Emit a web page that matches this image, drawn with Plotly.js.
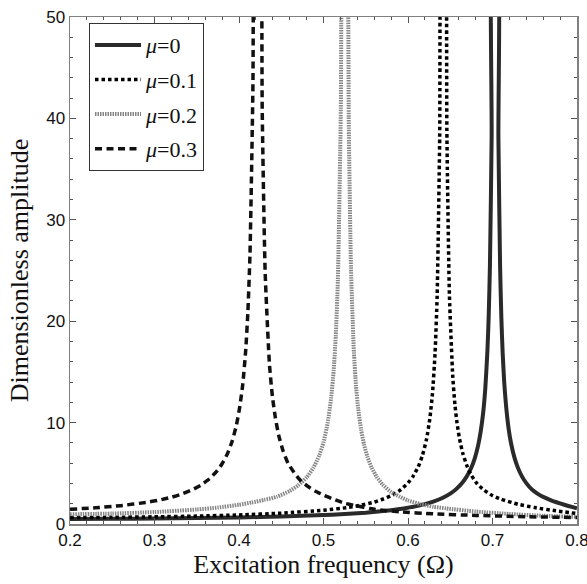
<!DOCTYPE html>
<html>
<head>
<meta charset="utf-8">
<script src="https://cdn.plot.ly/plotly-3.0.1.min.js"></script>
<style>html,body{margin:0;padding:0;background:#fff;}#chart{width:587px;height:584px;}</style>
</head>
<body>
<div id="chart"></div>
<script>
// Series names (legend)
const seriesNames = ["<i>\u03bc</i>=0", "<i>\u03bc</i>=0.1", "<i>\u03bc</i>=0.2", "<i>\u03bc</i>=0.3"];

// Axis ticks
const xTicks = [0.2, 0.3, 0.4, 0.5, 0.6, 0.7, 0.8];
const xTickText = ["0.2", "0.3", "0.4", "0.5", "0.6", "0.7", "0.8"];
const yTicks = [0, 10, 20, 30, 40, 50];
const yTickText = ["0", "10", "20", "30", "40", "50"];

// mu = 0
const xMu0 = [0.20,0.25,0.30,0.35,0.40,0.45,0.50,0.52,0.55,0.58,0.595,0.61,0.63,0.64,0.65,0.657,0.665,0.67,0.675,0.679,0.683,0.686,0.689,0.6915,0.694,0.6955,0.697,0.699,0.7005,0.7055,0.707,0.709,0.7105,0.712,0.714,0.716,0.719,0.722,0.726,0.73,0.735,0.74,0.747,0.755,0.762,0.77,0.785,0.80];
const yMu0 = [0.49,0.51,0.54,0.58,0.64,0.74,0.88,0.96,1.12,1.36,1.53,1.76,2.21,2.54,3.00,3.44,4.14,4.75,5.57,6.48,7.76,9.11,11.0,13.4,17.1,20.5,25.6,38.3,61.3,61.1,38.1,25.4,20.3,16.9,13.8,11.7,9.45,7.94,6.54,5.56,4.67,4.03,3.37,2.9,2.6,2.3,1.9,1.55];

// mu = 0.1
const xMu01 = [0.20,0.25,0.30,0.35,0.40,0.45,0.50,0.53,0.545,0.56,0.57,0.58,0.59,0.60,0.606,0.612,0.617,0.622,0.626,0.629,0.632,0.6345,0.6375,0.6395,0.644,0.646,0.649,0.653,0.6555,0.658,0.661,0.665,0.67,0.675,0.682,0.69,0.70,0.71,0.73,0.75,0.775,0.80];
const yMu01 = [0.63,0.66,0.71,0.78,0.89,1.07,1.36,1.64,1.87,2.16,2.44,2.78,3.29,4.05,4.70,5.62,6.73,8.39,10.5,12.9,16.8,22.5,38.2,71.3,74.2,38.8,22.6,14.5,11.8,9.97,8.40,6.93,5.68,4.80,3.95,3.35,2.8,2.45,1.95,1.62,1.3,1.03];

// mu = 0.2
const xMu02 = [0.20,0.25,0.30,0.35,0.375,0.40,0.415,0.43,0.445,0.46,0.47,0.48,0.488,0.495,0.50,0.505,0.509,0.512,0.5145,0.517,0.5205,0.5228,0.5282,0.530,0.5325,0.536,0.5385,0.541,0.5445,0.548,0.552,0.557,0.563,0.57,0.58,0.59,0.60,0.615,0.63,0.645,0.68,0.72,0.76,0.80];
const yMu02 = [0.96,1.03,1.18,1.43,1.62,1.90,2.12,2.38,2.69,3.26,3.81,4.60,5.54,6.77,8.06,9.99,12.4,15.1,18.5,24.0,41.0,77,64.4,39.1,25.3,16.9,13.6,11.4,9.30,7.83,6.63,5.56,4.64,3.89,3.15,2.70,2.32,1.96,1.70,1.54,1.23,0.99,0.81,0.70];

// mu = 0.3
const xMu03 = [0.20,0.23,0.26,0.29,0.305,0.32,0.333,0.345,0.355,0.365,0.373,0.38,0.386,0.392,0.397,0.401,0.4045,0.408,0.4105,0.413,0.4165,0.419,0.425,0.4275,0.431,0.436,0.4395,0.443,0.447,0.452,0.458,0.465,0.472,0.48,0.49,0.50,0.512,0.525,0.54,0.555,0.57,0.59,0.63,0.68,0.74,0.80];
const yMu03 = [1.45,1.60,1.81,2.13,2.35,2.64,2.98,3.39,3.84,4.46,5.13,5.94,6.88,8.19,9.77,11.6,13.8,17.2,20.9,26.6,43.4,79,74.8,40.7,24.7,15.8,12.6,10.5,8.75,7.25,6.0,5.1,4.36,3.8,3.26,2.85,2.44,2.05,1.78,1.52,1.36,1.2,1.0,0.85,0.72,0.64];

const xTitle = "Excitation frequency (\u03a9)";
const yTitle = "Dimensionless amplitude";

const serif = "Liberation Serif, Times New Roman, serif";
const sans = "Liberation Sans, Arial, sans-serif";

const traces = [
  {x: xMu0, y: yMu0, name: seriesNames[0], legendgroup: "a", line: {color: "#2a2a2a", width: 4, dash: "solid"}},
  {x: xMu01, y: yMu01, name: seriesNames[1], legendgroup: "b", line: {color: "#000000", width: 3.5, dash: "3.5px,3px"}},
  {x: xMu02, y: yMu02, name: seriesNames[2], legendgroup: "c", line: {color: "#858585", width: 4, dash: "1.5px,1px"}},
  {x: xMu03, y: yMu03, name: seriesNames[3], legendgroup: "d", line: {color: "#111111", width: 3.5, dash: "7px,4.5px"}}
].map(t => {
  t.line.shape = "spline";
  t.line.smoothing = 0.5;
  return Object.assign({type: "scatter", mode: "lines", hoverinfo: "skip"}, t);
});

const axisCommon = {
  showgrid: false, zeroline: false,
  showline: true, linecolor: "#808080", linewidth: 1.5, mirror: "allticks",
  ticks: "inside", ticklen: 6, tickwidth: 1, tickcolor: "#555",
  ticklabeloverflow: "allow",
  tickfont: {family: sans, size: 17, color: "#111"},
  minor: {ticks: "inside", ticklen: 3, tickwidth: 1, tickcolor: "#555"}
};

const layout = {
  width: 587, height: 584,
  margin: {l: 70, r: 10, t: 17, b: 60},
  paper_bgcolor: "#fff", plot_bgcolor: "#fff",
  showlegend: true,
  xaxis: Object.assign({}, axisCommon, {
    range: [0.2, 0.8], tickmode: "array", tickvals: xTicks, ticktext: xTickText,
    minor: Object.assign({}, axisCommon.minor, {tick0: 0.2, dtick: 0.02}),
    title: {text: xTitle, font: {family: serif, size: 26, color: "#111"}, standoff: 4}
  }),
  yaxis: Object.assign({}, axisCommon, {
    range: [0, 50], tickmode: "array", tickvals: yTicks, ticktext: yTickText,
    minor: Object.assign({}, axisCommon.minor, {tick0: 0, dtick: 2}),
    title: {text: yTitle, font: {family: serif, size: 26, color: "#111"}, standoff: 10}
  }),
  legend: {
    x: 0.0375, y: 0.988, xanchor: "left", yanchor: "top",
    bgcolor: "#fff", bordercolor: "#333", borderwidth: 1,
    font: {family: serif, size: 22, color: "#111"},
    itemwidth: 46, tracegroupgap: 3, traceorder: "grouped"
  }
};

Plotly.newPlot("chart", traces, layout, {displayModeBar: false, staticPlot: true});
</script>
</body>
</html>
